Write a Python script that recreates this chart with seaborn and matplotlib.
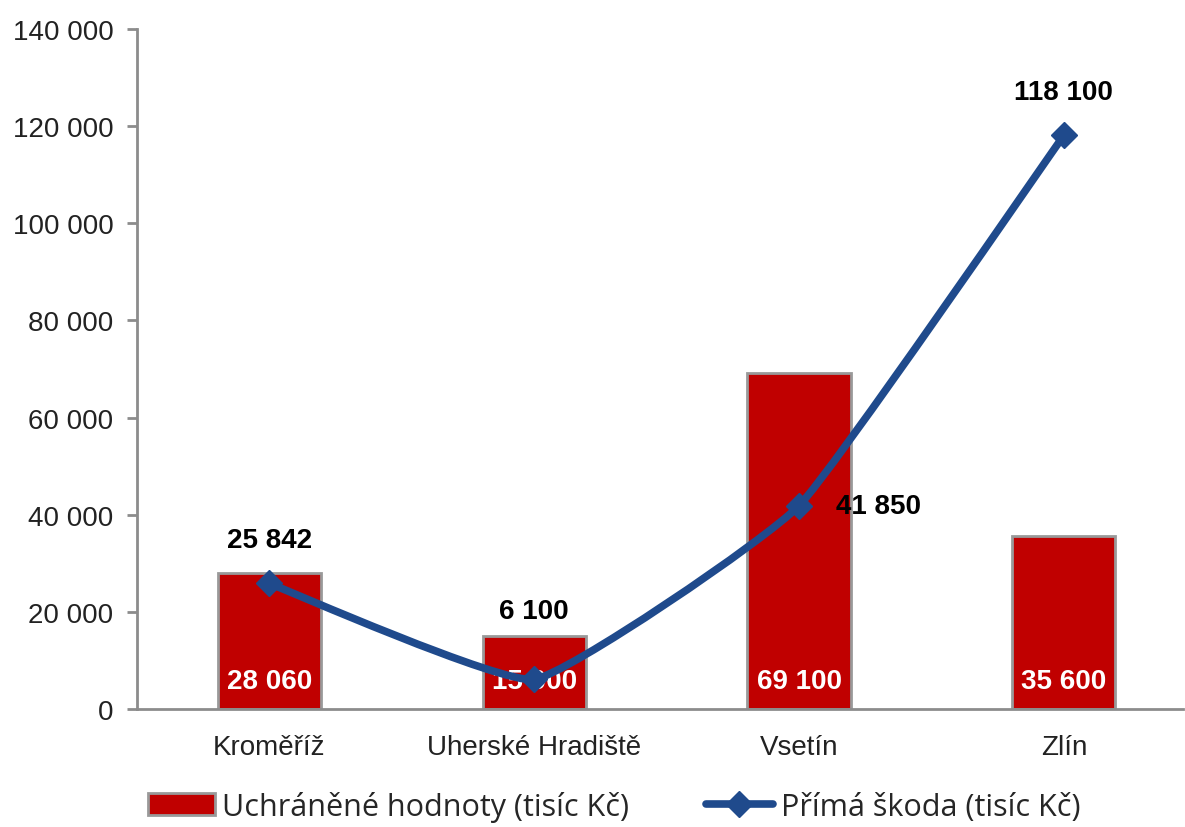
import numpy as np
import pandas as pd
import matplotlib
matplotlib.use("Agg")
import matplotlib.pyplot as plt
from matplotlib.path import Path
from matplotlib.patches import PathPatch, Patch
from matplotlib.lines import Line2D
import seaborn as sns

okresy = ["Kroměříž", "Uherské Hradiště", "Vsetín", "Zlín"]
uchranene = [28060, 15000, 69100, 35600]
skoda = [25842, 6100, 41850, 118100]

bar_name = "Uchráněné hodnoty (tisíc Kč)"
line_name = "Přímá škoda (tisíc Kč)"

sns.set_theme(style="white")
plt.rcParams["font.family"] = ["Liberation Sans", "DejaVu Sans"]

red = "#C00000"
blue = "#1F4A8C"
grey = "#8C8C8C"

def fmt(v):
    return f"{v:,}".replace(",", " ")

df = pd.DataFrame({"okres": okresy, "hodnota": uchranene})

fig = plt.figure(figsize=(11.85, 8.28), dpi=100)
ax = fig.add_axes([137 / 1185, 1 - 710 / 828, (1183 - 137) / 1185, (710 - 30) / 828])

sns.barplot(data=df, x="okres", y="hodnota", color=red, width=0.39,
            edgecolor="#999999", linewidth=2, saturation=1, ax=ax)

# lightly smoothed line (bezier through the points)
xs = np.arange(len(skoda), dtype=float)
ys = np.array(skoda, dtype=float)
P = np.column_stack([xs, ys])
verts = [P[0]]
codes = [Path.MOVETO]
k = 16
for i in range(len(P) - 1):
    p0 = P[i - 1] if i > 0 else P[i]
    p3 = P[i + 2] if i + 2 < len(P) else P[i + 1]
    c1 = P[i] + (P[i + 1] - p0) / k
    c2 = P[i + 1] - (p3 - P[i]) / k
    verts += [c1, c2, P[i + 1]]
    codes += [Path.CURVE4] * 3
ax.add_patch(PathPatch(Path(verts, codes), facecolor="none", edgecolor=blue,
                       lw=5.5, capstyle="round", joinstyle="round", zorder=4))
ax.plot(xs, ys, ls="none", marker="D", ms=13, color=blue, zorder=5)

# labels inside bars
for i, v in enumerate(uchranene):
    ax.text(i, 5800, fmt(v), ha="center", va="center", color="white",
            fontsize=20, fontweight="bold", zorder=3)

# labels of the line
offsets = [(0, 8900, "center"), (0, 14000, "center"), (0.14, 0, "left"), (0, 9000, "center")]
for i, v in enumerate(skoda):
    dx, dy, ha = offsets[i]
    ax.text(i + dx, v + dy, fmt(v), ha=ha, va="center", color="black",
            fontsize=20, fontweight="bold", zorder=6)

ax.set_xlim(-0.5, 3.45)
ax.set_ylim(0, 140000)
ax.set_yticks(np.arange(0, 140001, 20000))
ax.set_yticklabels([fmt(t) for t in range(0, 140001, 20000)], fontsize=20, color="#222222")
ax.set_xticks(range(len(okresy)))
ax.set_xticklabels(okresy, fontsize=20, color="#222222")
ax.set_xticks([-0.5, 0.5, 1.5, 2.5], minor=True)
ax.tick_params(axis="x", which="major", length=0, pad=18)
ax.tick_params(axis="x", which="minor", length=8, width=2, color=grey, direction="out")
ax.tick_params(axis="y", length=7, width=2, color=grey, direction="out", pad=10, left=True)
ax.set_xlabel("")
ax.set_ylabel("")
for s in ["top", "right"]:
    ax.spines[s].set_visible(False)
for s in ["left", "bottom"]:
    ax.spines[s].set_color(grey)
    ax.spines[s].set_linewidth(2)

handles = [Patch(facecolor=red, edgecolor="#999999", linewidth=2, label=bar_name),
           Line2D([0], [0], color=blue, lw=5.5, marker="D", ms=13, label=line_name)]
fig.legend(handles=handles, loc="center", bbox_to_anchor=(0.518, 0.025), ncol=2,
           frameon=False, prop={"family": ["Open Sans", "DejaVu Sans"], "size": 22},
           handlelength=2.2, handletextpad=0.25, columnspacing=2.5)

fig.savefig("out.png", dpi=100)
